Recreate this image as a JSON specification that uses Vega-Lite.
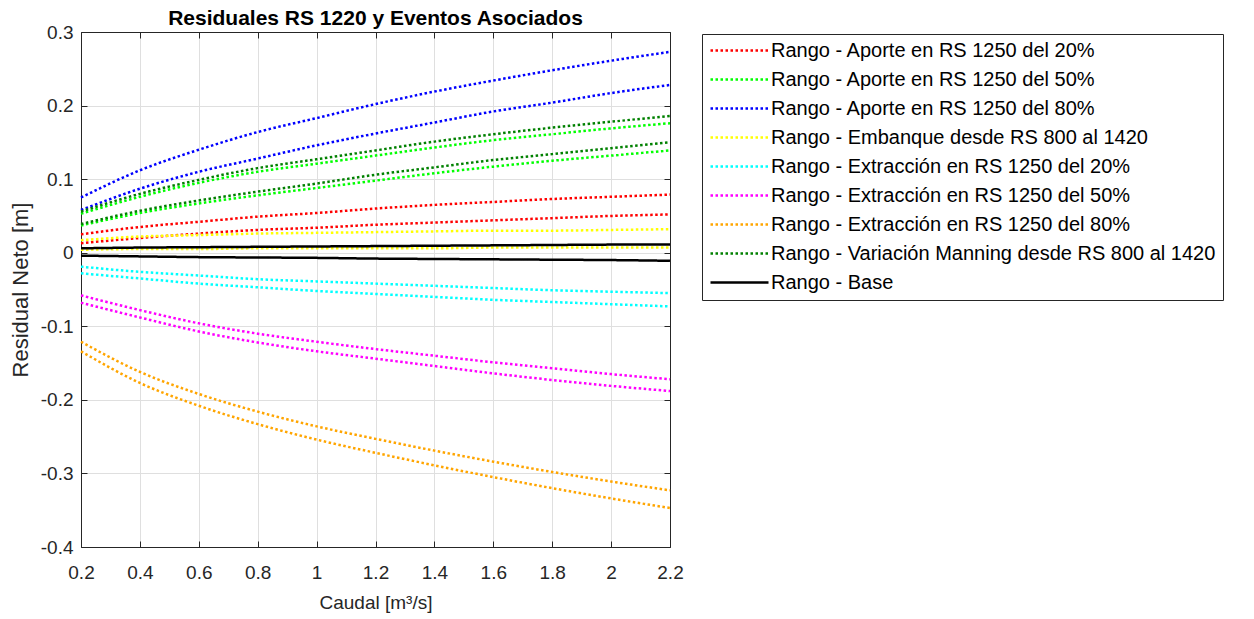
{
"$schema": "https://vega.github.io/schema/vega-lite/v6.json",
"width": 589, "height": 515,
"autosize": "none",
"padding": {"left": 81, "top": 32, "right": 584, "bottom": 72},
"background": "white",
"title": {"text": "Residuales RS 1220 y Eventos Asociados", "font": "Liberation Sans", "fontSize": 21, "fontWeight": "bold", "color": "black", "anchor": "middle", "frame": "group", "offset": -6},
"config": {"view": {"stroke": null}, "font": "Liberation Sans"},
"datasets": {"d": [
{"serie":"Rango - Aporte en RS 1250 del 20%","limite":"sup","x":0.2,"y":0.025},{"serie":"Rango - Aporte en RS 1250 del 20%","limite":"sup","x":0.4,"y":0.035},{"serie":"Rango - Aporte en RS 1250 del 20%","limite":"sup","x":0.6,"y":0.042},{"serie":"Rango - Aporte en RS 1250 del 20%","limite":"sup","x":0.8,"y":0.049},{"serie":"Rango - Aporte en RS 1250 del 20%","limite":"sup","x":1.0,"y":0.054},{"serie":"Rango - Aporte en RS 1250 del 20%","limite":"sup","x":1.2,"y":0.060},{"serie":"Rango - Aporte en RS 1250 del 20%","limite":"sup","x":1.4,"y":0.065},{"serie":"Rango - Aporte en RS 1250 del 20%","limite":"sup","x":1.6,"y":0.069},{"serie":"Rango - Aporte en RS 1250 del 20%","limite":"sup","x":1.8,"y":0.073},{"serie":"Rango - Aporte en RS 1250 del 20%","limite":"sup","x":2.0,"y":0.076},{"serie":"Rango - Aporte en RS 1250 del 20%","limite":"sup","x":2.2,"y":0.079},
{"serie":"Rango - Aporte en RS 1250 del 20%","limite":"inf","x":0.2,"y":0.013},{"serie":"Rango - Aporte en RS 1250 del 20%","limite":"inf","x":0.4,"y":0.020},{"serie":"Rango - Aporte en RS 1250 del 20%","limite":"inf","x":0.6,"y":0.026},{"serie":"Rango - Aporte en RS 1250 del 20%","limite":"inf","x":0.8,"y":0.031},{"serie":"Rango - Aporte en RS 1250 del 20%","limite":"inf","x":1.0,"y":0.034},{"serie":"Rango - Aporte en RS 1250 del 20%","limite":"inf","x":1.2,"y":0.038},{"serie":"Rango - Aporte en RS 1250 del 20%","limite":"inf","x":1.4,"y":0.041},{"serie":"Rango - Aporte en RS 1250 del 20%","limite":"inf","x":1.6,"y":0.044},{"serie":"Rango - Aporte en RS 1250 del 20%","limite":"inf","x":1.8,"y":0.047},{"serie":"Rango - Aporte en RS 1250 del 20%","limite":"inf","x":2.0,"y":0.050},{"serie":"Rango - Aporte en RS 1250 del 20%","limite":"inf","x":2.2,"y":0.052},
{"serie":"Rango - Aporte en RS 1250 del 50%","limite":"sup","x":0.2,"y":0.053},{"serie":"Rango - Aporte en RS 1250 del 50%","limite":"sup","x":0.4,"y":0.076},{"serie":"Rango - Aporte en RS 1250 del 50%","limite":"sup","x":0.6,"y":0.095},{"serie":"Rango - Aporte en RS 1250 del 50%","limite":"sup","x":0.8,"y":0.110},{"serie":"Rango - Aporte en RS 1250 del 50%","limite":"sup","x":1.0,"y":0.121},{"serie":"Rango - Aporte en RS 1250 del 50%","limite":"sup","x":1.2,"y":0.132},{"serie":"Rango - Aporte en RS 1250 del 50%","limite":"sup","x":1.4,"y":0.143},{"serie":"Rango - Aporte en RS 1250 del 50%","limite":"sup","x":1.6,"y":0.153},{"serie":"Rango - Aporte en RS 1250 del 50%","limite":"sup","x":1.8,"y":0.161},{"serie":"Rango - Aporte en RS 1250 del 50%","limite":"sup","x":2.0,"y":0.169},{"serie":"Rango - Aporte en RS 1250 del 50%","limite":"sup","x":2.2,"y":0.176},
{"serie":"Rango - Aporte en RS 1250 del 50%","limite":"inf","x":0.2,"y":0.037},{"serie":"Rango - Aporte en RS 1250 del 50%","limite":"inf","x":0.4,"y":0.054},{"serie":"Rango - Aporte en RS 1250 del 50%","limite":"inf","x":0.6,"y":0.067},{"serie":"Rango - Aporte en RS 1250 del 50%","limite":"inf","x":0.8,"y":0.078},{"serie":"Rango - Aporte en RS 1250 del 50%","limite":"inf","x":1.0,"y":0.088},{"serie":"Rango - Aporte en RS 1250 del 50%","limite":"inf","x":1.2,"y":0.098},{"serie":"Rango - Aporte en RS 1250 del 50%","limite":"inf","x":1.4,"y":0.108},{"serie":"Rango - Aporte en RS 1250 del 50%","limite":"inf","x":1.6,"y":0.117},{"serie":"Rango - Aporte en RS 1250 del 50%","limite":"inf","x":1.8,"y":0.125},{"serie":"Rango - Aporte en RS 1250 del 50%","limite":"inf","x":2.0,"y":0.132},{"serie":"Rango - Aporte en RS 1250 del 50%","limite":"inf","x":2.2,"y":0.139},
{"serie":"Rango - Aporte en RS 1250 del 80%","limite":"sup","x":0.2,"y":0.075},{"serie":"Rango - Aporte en RS 1250 del 80%","limite":"sup","x":0.4,"y":0.112},{"serie":"Rango - Aporte en RS 1250 del 80%","limite":"sup","x":0.6,"y":0.140},{"serie":"Rango - Aporte en RS 1250 del 80%","limite":"sup","x":0.8,"y":0.164},{"serie":"Rango - Aporte en RS 1250 del 80%","limite":"sup","x":1.0,"y":0.183},{"serie":"Rango - Aporte en RS 1250 del 80%","limite":"sup","x":1.2,"y":0.202},{"serie":"Rango - Aporte en RS 1250 del 80%","limite":"sup","x":1.4,"y":0.219},{"serie":"Rango - Aporte en RS 1250 del 80%","limite":"sup","x":1.6,"y":0.234},{"serie":"Rango - Aporte en RS 1250 del 80%","limite":"sup","x":1.8,"y":0.248},{"serie":"Rango - Aporte en RS 1250 del 80%","limite":"sup","x":2.0,"y":0.261},{"serie":"Rango - Aporte en RS 1250 del 80%","limite":"sup","x":2.2,"y":0.273},
{"serie":"Rango - Aporte en RS 1250 del 80%","limite":"inf","x":0.2,"y":0.058},{"serie":"Rango - Aporte en RS 1250 del 80%","limite":"inf","x":0.4,"y":0.087},{"serie":"Rango - Aporte en RS 1250 del 80%","limite":"inf","x":0.6,"y":0.110},{"serie":"Rango - Aporte en RS 1250 del 80%","limite":"inf","x":0.8,"y":0.128},{"serie":"Rango - Aporte en RS 1250 del 80%","limite":"inf","x":1.0,"y":0.146},{"serie":"Rango - Aporte en RS 1250 del 80%","limite":"inf","x":1.2,"y":0.162},{"serie":"Rango - Aporte en RS 1250 del 80%","limite":"inf","x":1.4,"y":0.177},{"serie":"Rango - Aporte en RS 1250 del 80%","limite":"inf","x":1.6,"y":0.192},{"serie":"Rango - Aporte en RS 1250 del 80%","limite":"inf","x":1.8,"y":0.204},{"serie":"Rango - Aporte en RS 1250 del 80%","limite":"inf","x":2.0,"y":0.217},{"serie":"Rango - Aporte en RS 1250 del 80%","limite":"inf","x":2.2,"y":0.228},
{"serie":"Rango - Embanque desde RS 800 al 1420","limite":"sup","x":0.2,"y":0.017},{"serie":"Rango - Embanque desde RS 800 al 1420","limite":"sup","x":0.4,"y":0.022},{"serie":"Rango - Embanque desde RS 800 al 1420","limite":"sup","x":0.6,"y":0.024},{"serie":"Rango - Embanque desde RS 800 al 1420","limite":"sup","x":0.8,"y":0.026},{"serie":"Rango - Embanque desde RS 800 al 1420","limite":"sup","x":1.0,"y":0.027},{"serie":"Rango - Embanque desde RS 800 al 1420","limite":"sup","x":1.2,"y":0.028},{"serie":"Rango - Embanque desde RS 800 al 1420","limite":"sup","x":1.4,"y":0.029},{"serie":"Rango - Embanque desde RS 800 al 1420","limite":"sup","x":1.6,"y":0.030},{"serie":"Rango - Embanque desde RS 800 al 1420","limite":"sup","x":1.8,"y":0.030},{"serie":"Rango - Embanque desde RS 800 al 1420","limite":"sup","x":2.0,"y":0.031},{"serie":"Rango - Embanque desde RS 800 al 1420","limite":"sup","x":2.2,"y":0.032},
{"serie":"Rango - Embanque desde RS 800 al 1420","limite":"inf","x":0.2,"y":0.004},{"serie":"Rango - Embanque desde RS 800 al 1420","limite":"inf","x":0.4,"y":0.005},{"serie":"Rango - Embanque desde RS 800 al 1420","limite":"inf","x":0.6,"y":0.005},{"serie":"Rango - Embanque desde RS 800 al 1420","limite":"inf","x":0.8,"y":0.006},{"serie":"Rango - Embanque desde RS 800 al 1420","limite":"inf","x":1.0,"y":0.006},{"serie":"Rango - Embanque desde RS 800 al 1420","limite":"inf","x":1.2,"y":0.006},{"serie":"Rango - Embanque desde RS 800 al 1420","limite":"inf","x":1.4,"y":0.006},{"serie":"Rango - Embanque desde RS 800 al 1420","limite":"inf","x":1.6,"y":0.007},{"serie":"Rango - Embanque desde RS 800 al 1420","limite":"inf","x":1.8,"y":0.007},{"serie":"Rango - Embanque desde RS 800 al 1420","limite":"inf","x":2.0,"y":0.007},{"serie":"Rango - Embanque desde RS 800 al 1420","limite":"inf","x":2.2,"y":0.007},
{"serie":"Rango - Extracción en RS 1250 del 20%","limite":"sup","x":0.2,"y":-0.019},{"serie":"Rango - Extracción en RS 1250 del 20%","limite":"sup","x":0.4,"y":-0.026},{"serie":"Rango - Extracción en RS 1250 del 20%","limite":"sup","x":0.6,"y":-0.031},{"serie":"Rango - Extracción en RS 1250 del 20%","limite":"sup","x":0.8,"y":-0.036},{"serie":"Rango - Extracción en RS 1250 del 20%","limite":"sup","x":1.0,"y":-0.039},{"serie":"Rango - Extracción en RS 1250 del 20%","limite":"sup","x":1.2,"y":-0.042},{"serie":"Rango - Extracción en RS 1250 del 20%","limite":"sup","x":1.4,"y":-0.045},{"serie":"Rango - Extracción en RS 1250 del 20%","limite":"sup","x":1.6,"y":-0.048},{"serie":"Rango - Extracción en RS 1250 del 20%","limite":"sup","x":1.8,"y":-0.051},{"serie":"Rango - Extracción en RS 1250 del 20%","limite":"sup","x":2.0,"y":-0.053},{"serie":"Rango - Extracción en RS 1250 del 20%","limite":"sup","x":2.2,"y":-0.055},
{"serie":"Rango - Extracción en RS 1250 del 20%","limite":"inf","x":0.2,"y":-0.028},{"serie":"Rango - Extracción en RS 1250 del 20%","limite":"inf","x":0.4,"y":-0.035},{"serie":"Rango - Extracción en RS 1250 del 20%","limite":"inf","x":0.6,"y":-0.042},{"serie":"Rango - Extracción en RS 1250 del 20%","limite":"inf","x":0.8,"y":-0.047},{"serie":"Rango - Extracción en RS 1250 del 20%","limite":"inf","x":1.0,"y":-0.052},{"serie":"Rango - Extracción en RS 1250 del 20%","limite":"inf","x":1.2,"y":-0.056},{"serie":"Rango - Extracción en RS 1250 del 20%","limite":"inf","x":1.4,"y":-0.060},{"serie":"Rango - Extracción en RS 1250 del 20%","limite":"inf","x":1.6,"y":-0.064},{"serie":"Rango - Extracción en RS 1250 del 20%","limite":"inf","x":1.8,"y":-0.067},{"serie":"Rango - Extracción en RS 1250 del 20%","limite":"inf","x":2.0,"y":-0.070},{"serie":"Rango - Extracción en RS 1250 del 20%","limite":"inf","x":2.2,"y":-0.073},
{"serie":"Rango - Extracción en RS 1250 del 50%","limite":"sup","x":0.2,"y":-0.058},{"serie":"Rango - Extracción en RS 1250 del 50%","limite":"sup","x":0.4,"y":-0.078},{"serie":"Rango - Extracción en RS 1250 del 50%","limite":"sup","x":0.6,"y":-0.096},{"serie":"Rango - Extracción en RS 1250 del 50%","limite":"sup","x":0.8,"y":-0.110},{"serie":"Rango - Extracción en RS 1250 del 50%","limite":"sup","x":1.0,"y":-0.121},{"serie":"Rango - Extracción en RS 1250 del 50%","limite":"sup","x":1.2,"y":-0.131},{"serie":"Rango - Extracción en RS 1250 del 50%","limite":"sup","x":1.4,"y":-0.140},{"serie":"Rango - Extracción en RS 1250 del 50%","limite":"sup","x":1.6,"y":-0.149},{"serie":"Rango - Extracción en RS 1250 del 50%","limite":"sup","x":1.8,"y":-0.157},{"serie":"Rango - Extracción en RS 1250 del 50%","limite":"sup","x":2.0,"y":-0.165},{"serie":"Rango - Extracción en RS 1250 del 50%","limite":"sup","x":2.2,"y":-0.172},
{"serie":"Rango - Extracción en RS 1250 del 50%","limite":"inf","x":0.2,"y":-0.068},{"serie":"Rango - Extracción en RS 1250 del 50%","limite":"inf","x":0.4,"y":-0.088},{"serie":"Rango - Extracción en RS 1250 del 50%","limite":"inf","x":0.6,"y":-0.107},{"serie":"Rango - Extracción en RS 1250 del 50%","limite":"inf","x":0.8,"y":-0.122},{"serie":"Rango - Extracción en RS 1250 del 50%","limite":"inf","x":1.0,"y":-0.134},{"serie":"Rango - Extracción en RS 1250 del 50%","limite":"inf","x":1.2,"y":-0.144},{"serie":"Rango - Extracción en RS 1250 del 50%","limite":"inf","x":1.4,"y":-0.154},{"serie":"Rango - Extracción en RS 1250 del 50%","limite":"inf","x":1.6,"y":-0.164},{"serie":"Rango - Extracción en RS 1250 del 50%","limite":"inf","x":1.8,"y":-0.173},{"serie":"Rango - Extracción en RS 1250 del 50%","limite":"inf","x":2.0,"y":-0.181},{"serie":"Rango - Extracción en RS 1250 del 50%","limite":"inf","x":2.2,"y":-0.188},
{"serie":"Rango - Extracción en RS 1250 del 80%","limite":"sup","x":0.2,"y":-0.121},{"serie":"Rango - Extracción en RS 1250 del 80%","limite":"sup","x":0.4,"y":-0.162},{"serie":"Rango - Extracción en RS 1250 del 80%","limite":"sup","x":0.6,"y":-0.192},{"serie":"Rango - Extracción en RS 1250 del 80%","limite":"sup","x":0.8,"y":-0.216},{"serie":"Rango - Extracción en RS 1250 del 80%","limite":"sup","x":1.0,"y":-0.236},{"serie":"Rango - Extracción en RS 1250 del 80%","limite":"sup","x":1.2,"y":-0.253},{"serie":"Rango - Extracción en RS 1250 del 80%","limite":"sup","x":1.4,"y":-0.269},{"serie":"Rango - Extracción en RS 1250 del 80%","limite":"sup","x":1.6,"y":-0.284},{"serie":"Rango - Extracción en RS 1250 del 80%","limite":"sup","x":1.8,"y":-0.298},{"serie":"Rango - Extracción en RS 1250 del 80%","limite":"sup","x":2.0,"y":-0.311},{"serie":"Rango - Extracción en RS 1250 del 80%","limite":"sup","x":2.2,"y":-0.323},
{"serie":"Rango - Extracción en RS 1250 del 80%","limite":"inf","x":0.2,"y":-0.134},{"serie":"Rango - Extracción en RS 1250 del 80%","limite":"inf","x":0.4,"y":-0.177},{"serie":"Rango - Extracción en RS 1250 del 80%","limite":"inf","x":0.6,"y":-0.208},{"serie":"Rango - Extracción en RS 1250 del 80%","limite":"inf","x":0.8,"y":-0.233},{"serie":"Rango - Extracción en RS 1250 del 80%","limite":"inf","x":1.0,"y":-0.254},{"serie":"Rango - Extracción en RS 1250 del 80%","limite":"inf","x":1.2,"y":-0.272},{"serie":"Rango - Extracción en RS 1250 del 80%","limite":"inf","x":1.4,"y":-0.289},{"serie":"Rango - Extracción en RS 1250 del 80%","limite":"inf","x":1.6,"y":-0.305},{"serie":"Rango - Extracción en RS 1250 del 80%","limite":"inf","x":1.8,"y":-0.320},{"serie":"Rango - Extracción en RS 1250 del 80%","limite":"inf","x":2.0,"y":-0.334},{"serie":"Rango - Extracción en RS 1250 del 80%","limite":"inf","x":2.2,"y":-0.347},
{"serie":"Rango - Variación Manning desde RS 800 al 1420","limite":"sup","x":0.2,"y":0.056},{"serie":"Rango - Variación Manning desde RS 800 al 1420","limite":"sup","x":0.4,"y":0.080},{"serie":"Rango - Variación Manning desde RS 800 al 1420","limite":"sup","x":0.6,"y":0.099},{"serie":"Rango - Variación Manning desde RS 800 al 1420","limite":"sup","x":0.8,"y":0.115},{"serie":"Rango - Variación Manning desde RS 800 al 1420","limite":"sup","x":1.0,"y":0.127},{"serie":"Rango - Variación Manning desde RS 800 al 1420","limite":"sup","x":1.2,"y":0.139},{"serie":"Rango - Variación Manning desde RS 800 al 1420","limite":"sup","x":1.4,"y":0.151},{"serie":"Rango - Variación Manning desde RS 800 al 1420","limite":"sup","x":1.6,"y":0.161},{"serie":"Rango - Variación Manning desde RS 800 al 1420","limite":"sup","x":1.8,"y":0.170},{"serie":"Rango - Variación Manning desde RS 800 al 1420","limite":"sup","x":2.0,"y":0.178},{"serie":"Rango - Variación Manning desde RS 800 al 1420","limite":"sup","x":2.2,"y":0.186},
{"serie":"Rango - Variación Manning desde RS 800 al 1420","limite":"inf","x":0.2,"y":0.039},{"serie":"Rango - Variación Manning desde RS 800 al 1420","limite":"inf","x":0.4,"y":0.057},{"serie":"Rango - Variación Manning desde RS 800 al 1420","limite":"inf","x":0.6,"y":0.071},{"serie":"Rango - Variación Manning desde RS 800 al 1420","limite":"inf","x":0.8,"y":0.083},{"serie":"Rango - Variación Manning desde RS 800 al 1420","limite":"inf","x":1.0,"y":0.094},{"serie":"Rango - Variación Manning desde RS 800 al 1420","limite":"inf","x":1.2,"y":0.106},{"serie":"Rango - Variación Manning desde RS 800 al 1420","limite":"inf","x":1.4,"y":0.116},{"serie":"Rango - Variación Manning desde RS 800 al 1420","limite":"inf","x":1.6,"y":0.126},{"serie":"Rango - Variación Manning desde RS 800 al 1420","limite":"inf","x":1.8,"y":0.134},{"serie":"Rango - Variación Manning desde RS 800 al 1420","limite":"inf","x":2.0,"y":0.142},{"serie":"Rango - Variación Manning desde RS 800 al 1420","limite":"inf","x":2.2,"y":0.150},
{"serie":"Rango - Base","limite":"sup","x":0.2,"y":0.006},{"serie":"Rango - Base","limite":"sup","x":0.4,"y":0.007},{"serie":"Rango - Base","limite":"sup","x":0.6,"y":0.0075},{"serie":"Rango - Base","limite":"sup","x":0.8,"y":0.008},{"serie":"Rango - Base","limite":"sup","x":1.0,"y":0.0085},{"serie":"Rango - Base","limite":"sup","x":1.2,"y":0.009},{"serie":"Rango - Base","limite":"sup","x":1.4,"y":0.0095},{"serie":"Rango - Base","limite":"sup","x":1.6,"y":0.010},{"serie":"Rango - Base","limite":"sup","x":1.8,"y":0.0105},{"serie":"Rango - Base","limite":"sup","x":2.0,"y":0.011},{"serie":"Rango - Base","limite":"sup","x":2.2,"y":0.011},
{"serie":"Rango - Base","limite":"inf","x":0.2,"y":-0.004},{"serie":"Rango - Base","limite":"inf","x":0.4,"y":-0.005},{"serie":"Rango - Base","limite":"inf","x":0.6,"y":-0.006},{"serie":"Rango - Base","limite":"inf","x":0.8,"y":-0.0065},{"serie":"Rango - Base","limite":"inf","x":1.0,"y":-0.007},{"serie":"Rango - Base","limite":"inf","x":1.2,"y":-0.008},{"serie":"Rango - Base","limite":"inf","x":1.4,"y":-0.0085},{"serie":"Rango - Base","limite":"inf","x":1.6,"y":-0.009},{"serie":"Rango - Base","limite":"inf","x":1.8,"y":-0.0095},{"serie":"Rango - Base","limite":"inf","x":2.0,"y":-0.010},{"serie":"Rango - Base","limite":"inf","x":2.2,"y":-0.011}
]},
"data": {"name": "d"},
"layer": [
{
"mark": {"type": "line", "strokeWidth": 2.5, "interpolate": "monotone", "strokeCap": "butt"},
"encoding": {
"x": {"field": "x", "type": "quantitative", "scale": {"domain": [0.2, 2.2], "nice": false, "zero": false},
 "axis": {"orient": "bottom", "values": [0.2,0.4,0.6,0.8,1.0,1.2,1.4,1.6,1.8,2.0,2.2], "format": ".1~f", "labelFont": "Liberation Sans", "labelFontSize": 19, "labelColor": "#262626", "labelPadding": 22, "labelFlush": false, "labelOverlap": false, "tickSize": -6, "tickColor": "#262626", "domainColor": "#262626", "grid": true, "gridColor": "#dfdfdf", "title": "Caudal [m³/s]", "titleFont": "Liberation Sans", "titleFontSize": 19, "titleFontWeight": "normal", "titleColor": "#262626", "titlePadding": 11}},
"y": {"field": "y", "type": "quantitative", "scale": {"domain": [-0.4, 0.3], "nice": false, "zero": false},
 "axis": {"orient": "left", "values": [-0.4,-0.3,-0.2,-0.1,0,0.1,0.2,0.3], "labelExpr": "datum.value == 0 ? '0' : (datum.value < 0 ? '-' + format(-datum.value, '.1f') : format(datum.value, '.1f'))", "labelFont": "Liberation Sans", "labelFontSize": 19, "labelColor": "#262626", "labelPadding": 14, "labelFlush": false, "labelOverlap": false, "tickSize": -6, "tickColor": "#262626", "domainColor": "#262626", "grid": true, "gridColor": "#dfdfdf", "title": "Residual Neto [m]", "titleFont": "Liberation Sans", "titleFontSize": 22, "titleFontWeight": "normal", "titleColor": "#262626", "titlePadding": 8}},
"color": {"field": "serie", "type": "nominal",
 "scale": {"domain": ["Rango - Aporte en RS 1250 del 20%","Rango - Aporte en RS 1250 del 50%","Rango - Aporte en RS 1250 del 80%","Rango - Embanque desde RS 800 al 1420","Rango - Extracción en RS 1250 del 20%","Rango - Extracción en RS 1250 del 50%","Rango - Extracción en RS 1250 del 80%","Rango - Variación Manning desde RS 800 al 1420","Rango - Base"],
  "range": ["#ff0000","#00ff00","#0000ff","#ffff00","#00ffff","#ff00ff","#ffa500","#008000","#000000"]},
 "legend": {"orient": "none", "legendX": 621, "legendY": 2, "title": null, "labelFont": "Liberation Sans", "labelFontSize": 20, "labelColor": "#000000", "labelLimit": 800, "labelOffset": 1, "symbolType": "stroke", "symbolSize": 3364, "symbolStrokeWidth": 2.5, "clipHeight": 19, "rowPadding": 8, "padding": 7, "strokeColor": "#262626", "fillColor": "#ffffff"}},
"strokeDash": {"field": "serie", "type": "nominal",
 "scale": {"domain": ["Rango - Aporte en RS 1250 del 20%","Rango - Aporte en RS 1250 del 50%","Rango - Aporte en RS 1250 del 80%","Rango - Embanque desde RS 800 al 1420","Rango - Extracción en RS 1250 del 20%","Rango - Extracción en RS 1250 del 50%","Rango - Extracción en RS 1250 del 80%","Rango - Variación Manning desde RS 800 al 1420","Rango - Base"],
  "range": [[2.5,2.5],[2.5,2.5],[2.5,2.5],[2.5,2.5],[2.5,2.5],[2.5,2.5],[2.5,2.5],[2.5,2.5],[1,0]]},
 "legend": {"orient": "none", "legendX": 621, "legendY": 2, "title": null, "labelFont": "Liberation Sans", "labelFontSize": 20, "labelColor": "#000000", "labelLimit": 800, "labelOffset": 1, "symbolType": "stroke", "symbolSize": 3364, "symbolStrokeWidth": 2.5, "clipHeight": 19, "rowPadding": 8, "padding": 7, "strokeColor": "#262626", "fillColor": "#ffffff"}},
"detail": {"field": "limite", "type": "nominal"}
}
},
{
"mark": {"type": "point", "opacity": 0},
"encoding": {
"x": {"field": "x", "type": "quantitative", "axis": {"orient": "top", "values": [0.2,0.4,0.6,0.8,1.0,1.2,1.4,1.6,1.8,2.0,2.2], "labels": false, "title": null, "grid": false, "tickSize": -6, "tickColor": "#262626", "domainColor": "#262626"}},
"y": {"field": "y", "type": "quantitative", "axis": {"orient": "right", "values": [-0.4,-0.3,-0.2,-0.1,0,0.1,0.2,0.3], "labels": false, "title": null, "grid": false, "tickSize": -6, "tickColor": "#262626", "domainColor": "#262626"}}
}
}
],
"resolve": {"axis": {"x": "independent", "y": "independent"}}
}
